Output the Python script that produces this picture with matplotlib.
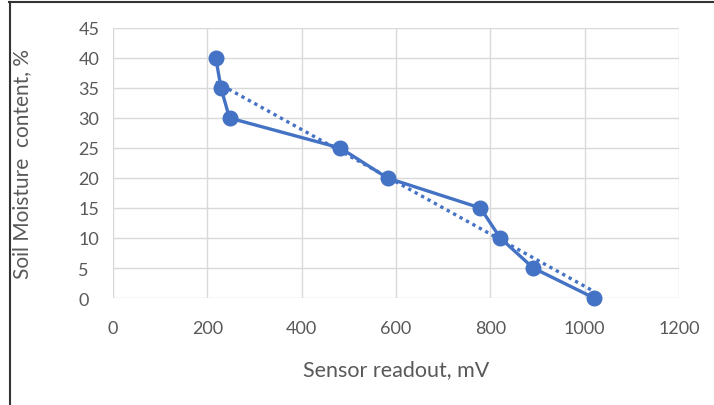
import matplotlib.pyplot as plt
from matplotlib.lines import Line2D
import numpy as np

#====================================
# Data

readout_mv = [218, 229, 247, 482, 582, 779, 821, 891, 1020]
moisture_pct = [40, 35, 30, 25, 20, 15, 10, 5, 0]

x_ticks = [0, 200, 400, 600, 800, 1000, 1200]
y_ticks = [0, 5, 10, 15, 20, 25, 30, 35, 40, 45]

x_label = "Sensor readout, mV"
y_label = "Soil Moisture  content, %"

#====================================
# Style

BLUE = "#4472c4"
GRID = "#d9d9d9"
TEXT = "#595959"
plt.rcParams['font.family'] = ['Lato', 'DejaVu Sans']

fig = plt.figure(figsize=(7.14, 4.06), dpi=100)
ax = fig.add_axes([113/714, 1-299/406, (679-113)/714, (299-29)/406])

# frame lines of the screenshot (top + left only)
fig.add_artist(Line2D([9/714, 1], [1-3/406, 1-3/406], color="#333333", lw=1.5))
fig.add_artist(Line2D([9.5/714, 9.5/714], [0, 1-3/406], color="#333333", lw=1.5))

# linear trendline (Excel style, over the data range)
k, b = np.polyfit(readout_mv, moisture_pct, 1)
xt = np.array([min(readout_mv), max(readout_mv)])
ax.plot(xt, k*xt + b, color=BLUE, lw=2.4, linestyle=(0, (1, 1.2)), zorder=2)

ax.plot(readout_mv, moisture_pct, color=BLUE, lw=2.4, marker='o',
        markersize=10.5, zorder=3, clip_on=False)

ax.set_xlim(0, 1200)
ax.set_ylim(0, 45)
ax.set_xticks(x_ticks)
ax.set_yticks(y_ticks)
ax.grid(True, color=GRID, lw=1)
ax.set_axisbelow(True)
for s in ax.spines.values():
    s.set_visible(False)
ax.tick_params(length=0, labelsize=13, labelcolor=TEXT)
ax.tick_params(axis='x', pad=16)
ax.tick_params(axis='y', pad=25)
for t in ax.get_yticklabels():
    t.set_horizontalalignment('left')

ax.set_xlabel(x_label, fontsize=15.5, color=TEXT, va='center')
ax.xaxis.set_label_coords(0.5, (299-370)/270)
ax.set_ylabel(y_label, fontsize=15, color=TEXT, va='center')
ax.yaxis.set_label_coords((22-113)/566, 0.5)

fig.savefig("out.png", dpi=100)
